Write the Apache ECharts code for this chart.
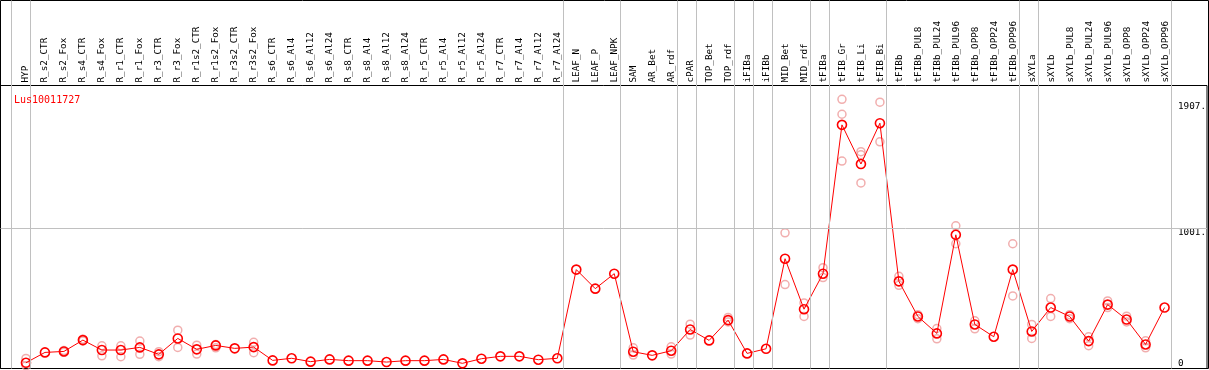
<!DOCTYPE html>
<html>
<head>
<meta charset="utf-8">
<script src="https://cdn.jsdelivr.net/npm/echarts@6/dist/echarts.min.js"></script>
<style>
html,body{margin:0;padding:0;background:#fff;}
#chart{width:1209px;height:370px;}
</style>
</head>
<body>
<div id="chart"></div>
<script>
const title = 'Lus10011727';
const categories = ['HYP','R_s2_CTR','R_s2_Fox','R_s4_CTR','R_s4_Fox','R_r1_CTR','R_r1_Fox','R_r3_CTR','R_r3_Fox','R_r1s2_CTR','R_r1s2_Fox','R_r3s2_CTR','R_r3s2_Fox','R_s6_CTR','R_s6_Al4','R_s6_Al12','R_s6_Al24','R_s8_CTR','R_s8_Al4','R_s8_Al12','R_s8_Al24','R_r5_CTR','R_r5_Al4','R_r5_Al12','R_r5_Al24','R_r7_CTR','R_r7_Al4','R_r7_Al12','R_r7_Al24','LEAF_N','LEAF_P','LEAF_NPK','SAM','AR_Bet','AR_rdf','cPAR','TOP_Bet','TOP_rdf','iFIBa','iFIBb','MID_Bet','MID_rdf','tFIBa','tFIB_Gr','tFIB_Li','tFIB_Bi','tFIBb','tFIBb_PUL8','tFIBb_PUL24','tFIBb_PUL96','tFIBb_OPP8','tFIBb_OPP24','tFIBb_OPP96','sXYLa','sXYLb','sXYLb_PUL8','sXYLb_PUL24','sXYLb_PUL96','sXYLb_OPP8','sXYLb_OPP24','sXYLb_OPP96'];
const means = [41,115,122,203,132,132,151,101,215,137,165,144,153,58,73,49,65,56,56,46,56,56,65,37,70,87,87,63,73,707,571,678,120,94,127,279,201,346,108,141,785,424,678,1742,1462,1754,623,372,251,956,315,227,707,265,436,372,196,457,350,172,436];
const repA = [72,null,128,210,162,162,196,120,274,167,172,null,187,null,null,null,null,null,null,null,null,null,null,null,null,null,null,null,null,null,null,null,148,null,155,317,null,365,null,null,970,469,721,1925,1550,1904,659,385,286,1020,341,null,892,315,500,385,227,483,374,198,null];
const repB = [20,null,116,197,91,84,101,84,151,103,148,null,113,null,null,null,null,null,null,null,null,null,null,null,null,null,null,null,null,null,null,null,96,null,103,239,null,333,null,null,600,372,650,1818,1528,1621,595,356,212,892,284,null,519,215,372,356,163,436,333,148,null];
const repC = [null,null,null,null,null,null,null,null,null,null,null,null,null,null,null,null,null,null,null,null,null,null,null,null,null,null,null,null,null,null,null,null,null,null,null,null,null,null,null,null,null,null,null,1483,1327,null,null,null,null,null,null,null,null,null,null,null,null,null,null,null,null];
const groupEnds = [-1,0,28,31,34,35,37,38,39,41,42,45,52,53,60];
const yTicks = [1001,1907];
const yZero = [0];
const refLine = 1001;

const FONT = 'DejaVu Sans Mono';
const XMIN = -1.3421, XMAX = 62.2368, YMAX = 2023.5;

const meanData = means.map((v,i)=>[i,v]);
const repData = [];
[repA,repB,repC].forEach(arr=>arr.forEach((v,i)=>{ if(v!=null) repData.push([i,v]); }));

const chart = echarts.init(document.getElementById('chart'), null, {renderer:'canvas'});
chart.setOption({
  animation:false,
  backgroundColor:'#fff',
  title:{text:title,left:9,top:90,textStyle:{color:'#ff0000',fontFamily:FONT,fontSize:10,fontWeight:'normal'}},
  grid:[
    {left:0.5,right:0.5,top:85.5,bottom:1.5,show:true,borderColor:'#000',borderWidth:1,backgroundColor:'transparent'},
    {left:0.5,right:0.5,top:0.5,bottom:1.5,show:true,borderColor:'#000',borderWidth:1,backgroundColor:'transparent'},
    {left:16.5,width:1159,top:85.5,bottom:1.5,show:false}
  ],
  xAxis:[
    {gridIndex:0,type:'value',min:XMIN,max:XMAX,show:false},
    {gridIndex:1,type:'value',min:XMIN,max:XMAX,show:false},
    {gridIndex:2,type:'category',data:categories,position:'top',boundaryGap:true,
     axisLine:{show:false},axisTick:{show:false},splitLine:{show:false},
     axisLabel:{rotate:90,interval:0,margin:3,fontFamily:FONT,fontSize:9.3,color:'#000'}}
  ],
  yAxis:[
    {gridIndex:0,type:'value',min:0,max:YMAX,position:'right',axisLine:{show:false},axisTick:{show:false},splitLine:{show:false},
     axisLabel:{inside:true,customValues:yTicks,align:'left',verticalAlign:'top',margin:29,fontFamily:FONT,fontSize:9.3,color:'#000',
       formatter:v=>v+'.'}},
    {gridIndex:0,type:'value',min:0,max:YMAX,position:'right',axisLine:{show:false},axisTick:{show:false},splitLine:{show:false},
     axisLabel:{inside:true,customValues:yZero,align:'left',verticalAlign:'bottom',margin:29,fontFamily:FONT,fontSize:9.3,color:'#000'}},
    {gridIndex:1,type:'value',min:0,max:1,show:false},
    {gridIndex:2,type:'value',min:0,max:1,show:false}
  ],
  series:[
    {type:'scatter',xAxisIndex:1,yAxisIndex:2,data:[],silent:true,
     markLine:{silent:true,symbol:'none',label:{show:false},lineStyle:{color:'#c0c0c0',width:1,type:'solid'},
       data:groupEnds.map(g=>({xAxis:g+0.25}))}},
    {type:'scatter',xAxisIndex:0,yAxisIndex:0,data:repData,symbol:'circle',symbolSize:8,z:2,silent:true,
     itemStyle:{color:'rgba(0,0,0,0)',borderColor:'#ee9a9a',borderWidth:1.5},
     markLine:{silent:true,symbol:'none',label:{show:false},lineStyle:{color:'#c0c0c0',width:1,type:'solid'},
       data:[{yAxis:refLine}]}},
    {type:'line',xAxisIndex:0,yAxisIndex:0,data:meanData,symbol:'circle',symbolSize:9,z:3,silent:true,
     lineStyle:{color:'#ff0000',width:1},
     itemStyle:{color:'rgba(0,0,0,0)',borderColor:'#ff0000',borderWidth:1.6}}
  ]
});
</script>
</body>
</html>
